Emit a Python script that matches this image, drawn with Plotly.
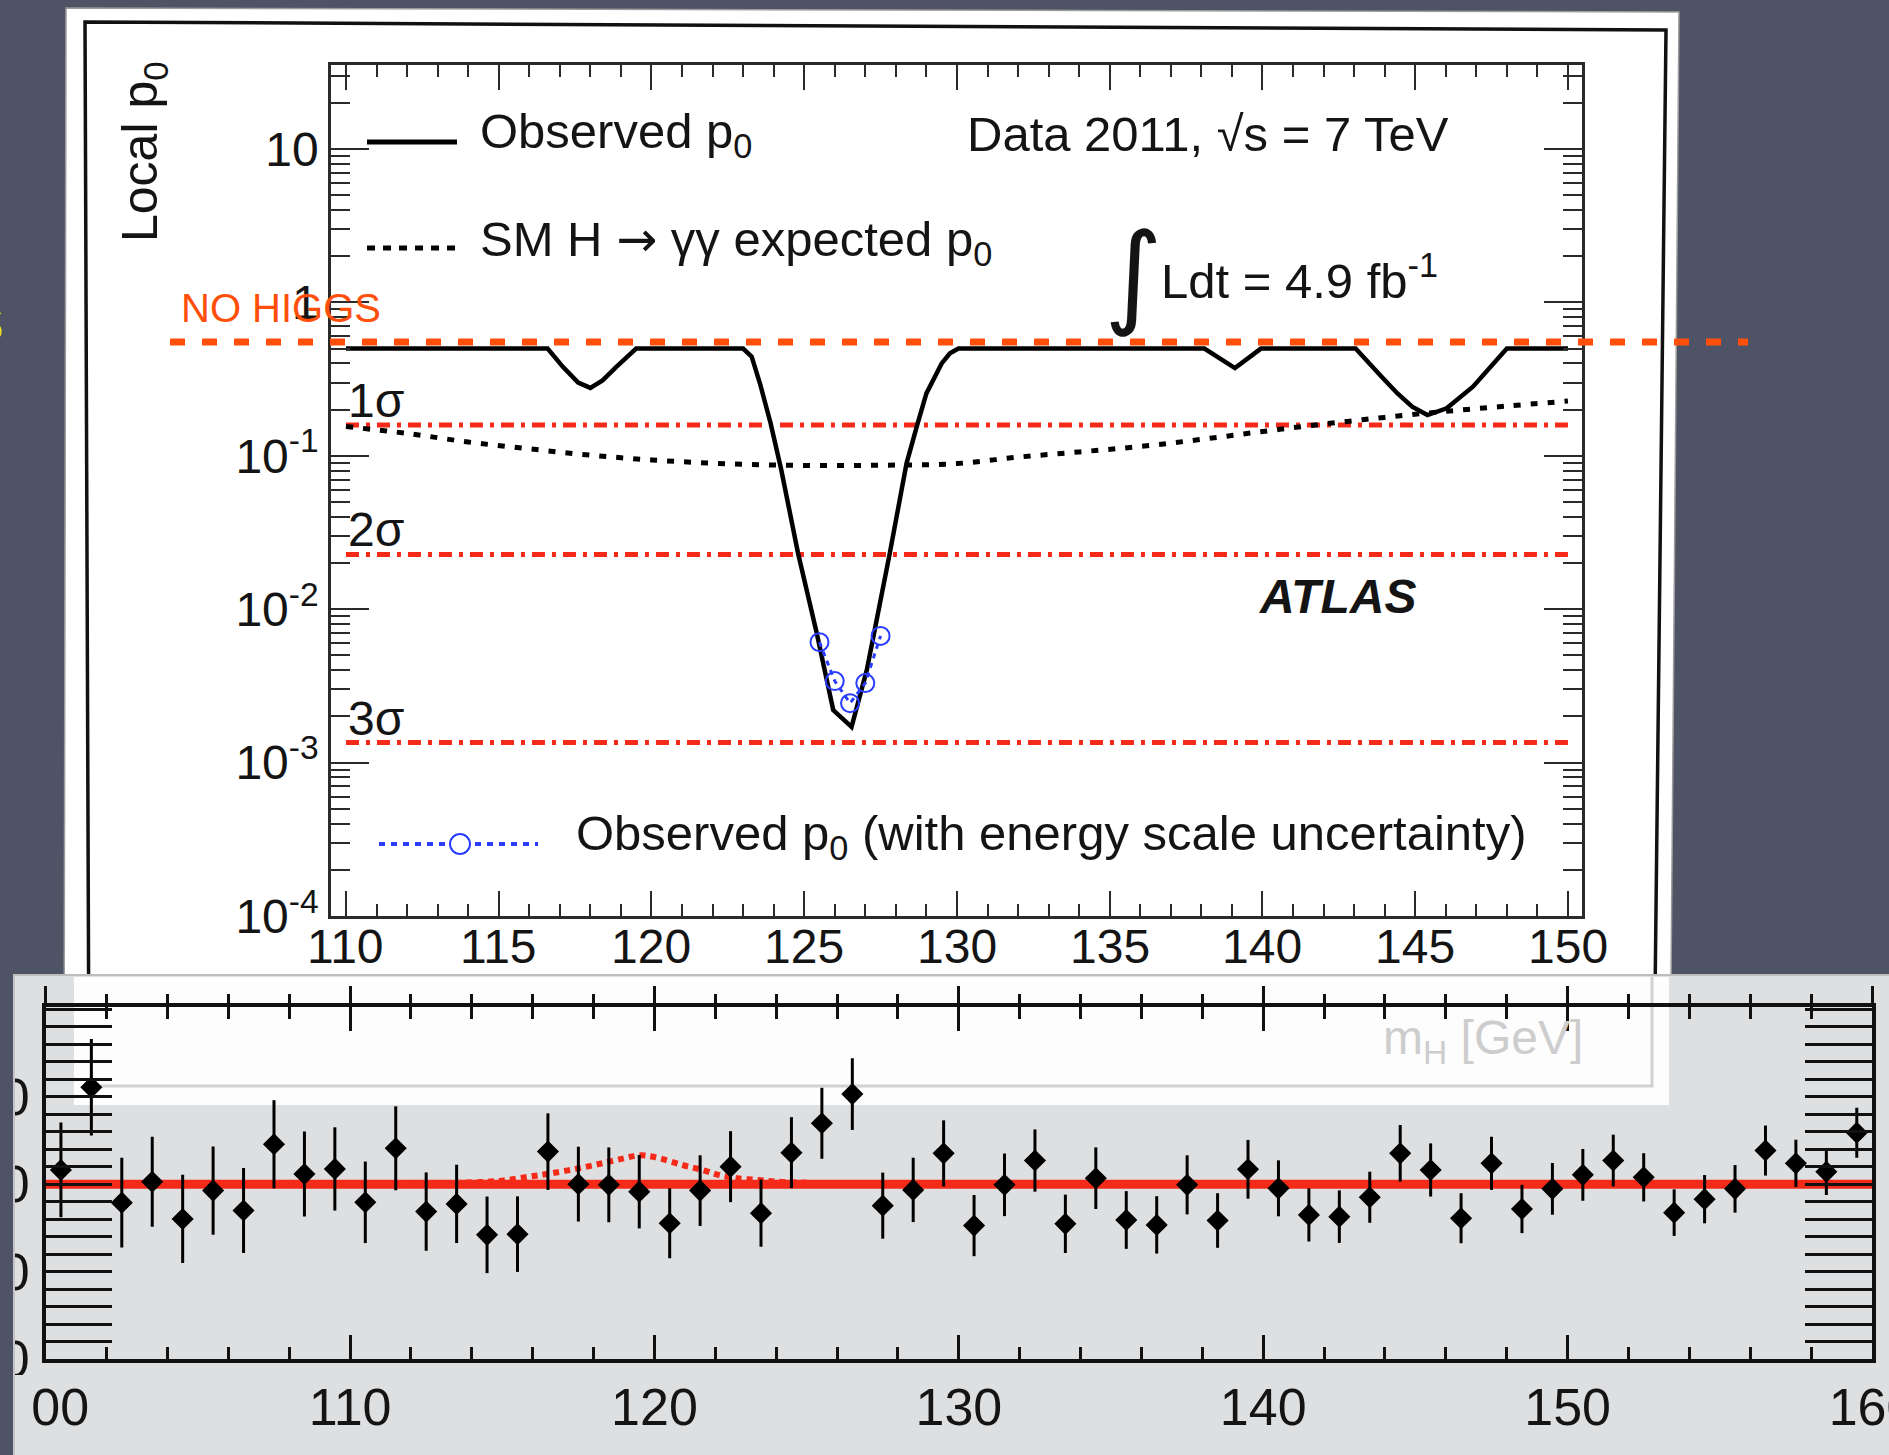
import math
import plotly.graph_objects as go

W, H = 1889, 1455

# ---------------- local p0 scan, H -> gamma gamma, 2011 data ----------------
obs_mass = [110.0, 116.6, 117.1, 117.6, 118.0, 118.4, 118.85, 119.5, 123.0, 123.28,
            123.55, 123.9, 124.25, 124.8, 125.4, 125.95, 126.55, 127.05, 127.8, 128.35,
            128.7, 129.0, 129.5, 129.77, 130.05, 138.1, 139.1, 139.95, 143.05, 143.42,
            143.9, 144.42, 144.9, 145.4, 146.03, 146.89, 147.4, 148.0, 150.0]
obs_p0 = [0.5, 0.5, 0.38, 0.30, 0.277, 0.31, 0.38, 0.5, 0.5, 0.443,
          0.297, 0.163, 0.0807, 0.0231, 0.00713, 0.0022, 0.00171, 0.00402, 0.0231, 0.0893,
          0.159, 0.255, 0.40, 0.466, 0.5, 0.5, 0.373, 0.5, 0.5, 0.42,
          0.328, 0.255, 0.209, 0.1845, 0.204, 0.282, 0.363, 0.5, 0.5]

exp_mass = [110, 112, 114, 116, 118, 120, 122, 124, 126, 128, 130,
            132, 134, 136, 138, 140, 142, 144, 146, 148, 150]
exp_p0 = [0.155, 0.140, 0.123, 0.111, 0.101, 0.094, 0.0895, 0.087, 0.0865, 0.087, 0.089,
          0.098, 0.106, 0.115, 0.128, 0.144, 0.161, 0.178, 0.195, 0.211, 0.2275]

escale_mass = [125.5, 126.0, 126.5, 127.0, 127.5]
escale_p0 = [0.0061, 0.0034, 0.00244, 0.0033, 0.0067]

sigma_names = ["1σ", "2σ", "3σ"]
sigma_p0 = [0.1587, 0.02275, 0.00135]
sigma_span = [110, 150]

p0_tickvals = [1e-4, 1e-3, 1e-2, 1e-1, 1, 10]
p0_ticktext = ["10<sup>-4</sup>", "10<sup>-3</sup>", "10<sup>-2</sup>",
               "10<sup>-1</sup>", "1", "10"]

# ---------------- background-subtracted diphoton spectrum ----------------
bin_mass = [100.5, 101.5, 102.5, 103.5, 104.5, 105.5, 106.5, 107.5, 108.5, 109.5,
            110.5, 111.5, 112.5, 113.5, 114.5, 115.5, 116.5, 117.5, 118.5, 119.5,
            120.5, 121.5, 122.5, 123.5, 124.5, 125.5, 126.5, 127.5, 128.5, 129.5,
            130.5, 131.5, 132.5, 133.5, 134.5, 135.5, 136.5, 137.5, 138.5, 139.5,
            140.5, 141.5, 142.5, 143.5, 144.5, 145.5, 146.5, 147.5, 148.5, 149.5,
            150.5, 151.5, 152.5, 153.5, 154.5, 155.5, 156.5, 157.5, 158.5, 159.5]
resid = [8.1, 55.4, -10.6, 1.4, -19.9, -3.7, -15.1, 22.8, 5.8, 8.7,
         -10.4, 20.5, -15.7, -11.3, -29.0, -28.6, 18.6, 0.0, -0.4, -4.3,
         -22.4, -3.7, 10.0, -16.6, 18.0, 34.8, 51.5, -12.3, -3.3, 17.6,
         -23.7, -0.4, 13.5, -22.7, 3.4, -20.5, -23.3, -0.4, -20.8, 8.5,
         -2.4, -17.6, -18.6, -7.5, 17.6, 8.1, -19.5, 11.9, -14.2, -2.7,
         5.3, 13.5, 3.9, -16.3, -8.6, -2.7, 19.2, 11.9, 7.1, 29.4]
resid_err = [27.1, 27.6, 25.7, 25.7, 25.2, 25.2, 24.3, 25.2, 24.3, 23.8,
             23.3, 24.0, 22.4, 22.4, 21.9, 21.6, 21.9, 21.4, 21.4, 21.0,
             20.0, 20.2, 20.3, 19.2, 20.3, 20.3, 20.5, 18.9, 18.4, 18.9,
             17.5, 17.9, 17.8, 16.7, 17.6, 16.5, 16.4, 16.9, 15.6, 16.8,
             16.0, 15.2, 15.0, 14.6, 16.2, 15.2, 14.3, 15.2, 13.8, 14.8,
             14.8, 14.8, 13.8, 13.3, 13.8, 13.6, 14.3, 13.5, 13.3, 14.3]
bkg_mass = [100, 160]
bkg_level = [0, 0]
sig_mass = [112.0, 113.0, 114.0, 115.0, 115.9, 116.6, 117.5, 118.3, 119.0, 119.5,
            120.0, 120.9, 121.6, 122.1, 122.7, 123.4, 124.0, 125.0]
sig_level = [0.0, 0.5, 1.0, 2.0, 4.3, 6.2, 9.0, 12.0, 14.8, 16.5,
             15.5, 11.0, 8.0, 5.3, 3.4, 2.4, 1.5, 0.8]

mass_ticks_top = [110, 115, 120, 125, 130, 135, 140, 145, 150]
mass_ticks_bottom = [100, 110, 120, 130, 140, 150, 160]
resid_tickvals = [-100, -50, 0, 50, 100]
resid_ticktext = ["-100", "-50", "0", "50", ""]

# ---------------- styling ----------------
SANS = "Liberation Sans, Arial, Helvetica, sans-serif"
SLATE = "#4e5465"
INK = "#141414"
AXC = "#2a2a2a"
BLK = "#111111"
RED = "#f52a18"
ORANGE = "#ff4f0a"
BLUE = "#2a3cff"
PANEL_GRAY = "#dedfe1"


def fx(px):
    return px / W


def fy(py):
    return 1 - py / H


def path(points, close=True):
    s = "M " + " L ".join(f"{fx(x):.5f},{fy(y):.5f}" for x, y in points)
    return s + (" Z" if close else "")


fig = go.Figure()

# ---- upper panel: p0 scan ----
for p in sigma_p0:
    fig.add_trace(go.Scatter(
        x=sigma_span, y=[p, p], mode="lines",
        line=dict(color=RED, width=5, dash="13px,7px,4px,7px"),
        xaxis="x", yaxis="y", showlegend=False, hoverinfo="skip"))

fig.add_trace(go.Scatter(
    x=exp_mass, y=exp_p0, mode="lines", line_shape="spline",
    line=dict(color="black", width=5, dash="7px,10px"),
    xaxis="x", yaxis="y", showlegend=False))

fig.add_trace(go.Scatter(
    x=obs_mass, y=obs_p0, mode="lines",
    line=dict(color="black", width=4.5),
    xaxis="x", yaxis="y", showlegend=False))

fig.add_trace(go.Scatter(
    x=escale_mass, y=escale_p0, mode="lines+markers",
    line=dict(color=BLUE, width=3, dash="5px,5px"),
    marker=dict(symbol="circle-open", size=18, color=BLUE, line=dict(width=2, color=BLUE)),
    xaxis="x", yaxis="y", showlegend=False))

# ---- lower panel: data minus background ----
fig.add_trace(go.Scatter(
    x=bkg_mass, y=bkg_level, mode="lines",
    line=dict(color=RED, width=9),
    xaxis="x2", yaxis="y2", showlegend=False))

fig.add_trace(go.Scatter(
    x=sig_mass, y=sig_level, mode="lines", line_shape="spline",
    line=dict(color=RED, width=6, dash="6px,5px"),
    xaxis="x2", yaxis="y2", showlegend=False))

fig.add_trace(go.Scatter(
    x=bin_mass, y=resid, mode="markers",
    marker=dict(symbol="diamond", size=17, color="black"),
    error_y=dict(type="data", array=resid_err, color="black", thickness=3, width=0),
    xaxis="x2", yaxis="y2", showlegend=False))

# empty trace so the outward tick axis on top of the lower panel gets drawn
fig.add_trace(go.Scatter(x=[], y=[], mode="lines", xaxis="x3", yaxis="y2",
                         showlegend=False, hoverinfo="skip"))

# ---------------- background shapes ----------------
shapes = []
# white sheet of the upper figure
shapes.append(dict(type="path", xref="paper", yref="paper", layer="below",
                   path=path([(66, 8), (1679, 12), (1670, 1105), (64, 1105)]),
                   fillcolor="white", line=dict(color="#9c9c9c", width=1.5)))
# canvas frame
shapes.append(dict(type="path", xref="paper", yref="paper", layer="below",
                   path=path([(85, 22), (1666, 30), (1654, 1086), (89, 1086)]),
                   fillcolor="rgba(0,0,0,0)", line=dict(color="#111111", width=3.5)))
# lower picture
shapes.append(dict(type="rect", xref="paper", yref="paper", layer="below",
                   x0=fx(14), x1=fx(1895), y0=fy(1460), y1=fy(975),
                   fillcolor=PANEL_GRAY, line=dict(color="#bdbdbd", width=2)))
shapes.append(dict(type="rect", xref="paper", yref="paper", layer="below",
                   x0=fx(74), x1=fx(1669), y0=fy(1105), y1=fy(977),
                   fillcolor="#fdfdfd", line=dict(width=0)))
shapes.append(dict(type="path", xref="paper", yref="paper", layer="below",
                   path=path([(100, 1086), (1652, 1086), (1652, 977)], close=False),
                   line=dict(color="#d2d2d2", width=3)))
# left edge of the lower picture (crops its axis numbers)
shapes.append(dict(type="rect", xref="paper", yref="paper", layer="above",
                   x0=fx(-5), x1=fx(14), y0=fy(1460), y1=fy(975),
                   fillcolor=SLATE, line=dict(width=0)))
shapes.append(dict(type="rect", xref="paper", yref="paper", layer="above",
                   x0=fx(15), x1=fx(31), y0=fy(1453), y1=fy(1375),
                   fillcolor=PANEL_GRAY, line=dict(width=0)))
shapes.append(dict(type="line", xref="paper", yref="paper", layer="above",
                   x0=fx(14), x1=fx(14), y0=fy(1455), y1=fy(975),
                   line=dict(color="#c4c4c4", width=2)))

# legend samples
shapes.append(dict(type="line", xref="paper", yref="paper", layer="above",
                   x0=fx(367), x1=fx(457), y0=fy(142), y1=fy(142),
                   line=dict(color="black", width=5)))
shapes.append(dict(type="line", xref="paper", yref="paper", layer="above",
                   x0=fx(367), x1=fx(457), y0=fy(248), y1=fy(248),
                   line=dict(color="black", width=5, dash="8px,8px")))
shapes.append(dict(type="line", xref="paper", yref="paper", layer="above",
                   x0=fx(379), x1=fx(538), y0=fy(844), y1=fy(844),
                   line=dict(color=BLUE, width=4, dash="6px,6px")))
shapes.append(dict(type="circle", xref="paper", yref="paper", layer="above",
                   x0=fx(450), x1=fx(470), y0=fy(854), y1=fy(834),
                   fillcolor="white", line=dict(color=BLUE, width=2)))

# "no Higgs" reference line
shapes.append(dict(type="line", xref="paper", yref="paper", layer="above",
                   x0=fx(170), x1=fx(1748), y0=fy(342), y1=fy(342),
                   line=dict(color=ORANGE, width=7, dash="15px,17px")))


def note(text, x, y, size, color=INK, xanchor="left", yanchor="middle", family=SANS, **kw):
    return dict(text=text, x=fx(x), y=fy(y), xref="paper", yref="paper",
                showarrow=False, xanchor=xanchor, yanchor=yanchor,
                font=dict(size=size, color=color, family=family), **kw)


ARROW = '<span style="font-family:DejaVu Sans">→</span>'

annotations = [
    note("Observed p<sub>0</sub>", 478, 134, 49),
    note("SM H " + ARROW + " γγ expected p<sub>0</sub>", 478, 242, 49),
    note("Data 2011, √s = 7 TeV", 965, 133.5, 49),
    note("∫", 1133, 274, 112, xanchor="center", family="DejaVu Sans, Liberation Sans"),
    note("Ldt = 4.9 fb<sup>-1</sup>", 1159, 277, 49),
    note("<b><i>ATLAS</i></b>", 1257, 596.5, 48),
    note("Observed p<sub>0</sub> (with energy scale uncertainty)", 574, 837, 49),
    note("Local p<sub>0</sub>", 144, 152, 50, xanchor="center", textangle=-90),
    note("NO HIGGS", 179, 307.5, 40, color=ORANGE),
    note("m<sub>H</sub> [GeV]", 1585, 1041, 48, color="#cdcdcd", xanchor="right"),
    note("s", 6, 318, 66, color="#f0dc1e", xanchor="right"),
]
for name, p in zip(sigma_names, sigma_p0):
    annotations.append(dict(text=name, x=110.0, y=math.log10(p), xref="x", yref="y",
                            showarrow=False, xanchor="left", yanchor="bottom", yshift=-4,
                            font=dict(size=48, color=INK, family=SANS)))
# upper-panel mass numbers, placed on the mass axis' own scale
for v in mass_ticks_top:
    annotations.append(dict(text=str(v), x=v, xref="x", y=fy(946), yref="paper",
                            showarrow=False, xanchor="center", yanchor="middle",
                            font=dict(size=48, color=INK, family=SANS)))

tick_top = dict(size=48, color=INK, family=SANS)
tick_bottom = dict(size=52, color=INK, family=SANS)

fig.update_layout(
    width=W, height=H, autosize=False,
    margin=dict(l=0, r=0, t=0, b=0, pad=0),
    paper_bgcolor=SLATE, plot_bgcolor="rgba(0,0,0,0)",
    showlegend=False,
    shapes=shapes, annotations=annotations,
    # upper panel
    xaxis=dict(domain=[fx(331), fx(1582)], range=[109.51, 150.46], anchor="y",
               automargin=False, tickmode="array", tickvals=mass_ticks_top,
               ticks="inside", ticklen=25, tickwidth=2, tickcolor=AXC,
               minor=dict(dtick=1, ticks="inside", ticklen=12, tickwidth=2, tickcolor=AXC),
               showline=True, linewidth=2.5, linecolor=AXC, mirror="allticks",
               showgrid=False, zeroline=False, showticklabels=False),
    yaxis=dict(domain=[fy(916), fy(65)], type="log", range=[-4, 1.5476], anchor="x",
               automargin=False,
               tickmode="array", tickvals=p0_tickvals, ticktext=p0_ticktext,
               ticks="inside", ticklen=38, tickwidth=2, tickcolor=AXC,
               minor=dict(dtick="D1", ticks="inside", ticklen=19, tickwidth=2, tickcolor=AXC),
               showline=True, linewidth=2.5, linecolor=AXC, mirror="allticks",
               showgrid=False, zeroline=False, tickfont=tick_top, ticklabelstandoff=0),
    # lower panel
    xaxis2=dict(domain=[fx(45.7), fx(1872)], range=[100, 160], anchor="y2",
                automargin=False, tickmode="array", tickvals=mass_ticks_bottom,
                ticks="inside", ticklen=24, tickwidth=3, tickcolor=BLK,
                minor=dict(dtick=2, ticks="inside", ticklen=12, tickwidth=3, tickcolor=BLK),
                showline=True, linewidth=3.5, linecolor=BLK, mirror="allticks",
                showgrid=False, zeroline=False, tickfont=tick_bottom, ticklabelstandoff=0,
                ticklabeloverflow="allow"),
    xaxis3=dict(overlaying="x2", anchor="y2", side="top", range=[100, 160],
                automargin=False, tickmode="array", tickvals=mass_ticks_bottom,
                ticks="outside", ticklen=20, tickwidth=3, tickcolor=BLK,
                minor=dict(dtick=2, ticks="outside", ticklen=12, tickwidth=3, tickcolor=BLK),
                showline=False, showgrid=False, zeroline=False, showticklabels=False),
    yaxis2=dict(domain=[fy(1359), fy(1007)], range=[-100, 101.3], anchor="x2",
                automargin=False,
                tickmode="array", tickvals=resid_tickvals, ticktext=resid_ticktext,
                ticks="inside", ticklen=67, tickwidth=3, tickcolor=BLK,
                minor=dict(dtick=10, ticks="inside", ticklen=33, tickwidth=3, tickcolor=BLK),
                showline=True, linewidth=3.5, linecolor=BLK, mirror="allticks",
                showgrid=False, zeroline=False, tickfont=tick_bottom, ticklabelstandoff=2,
                ticklabeloverflow="allow"),
)

fig.write_html("out.html")
